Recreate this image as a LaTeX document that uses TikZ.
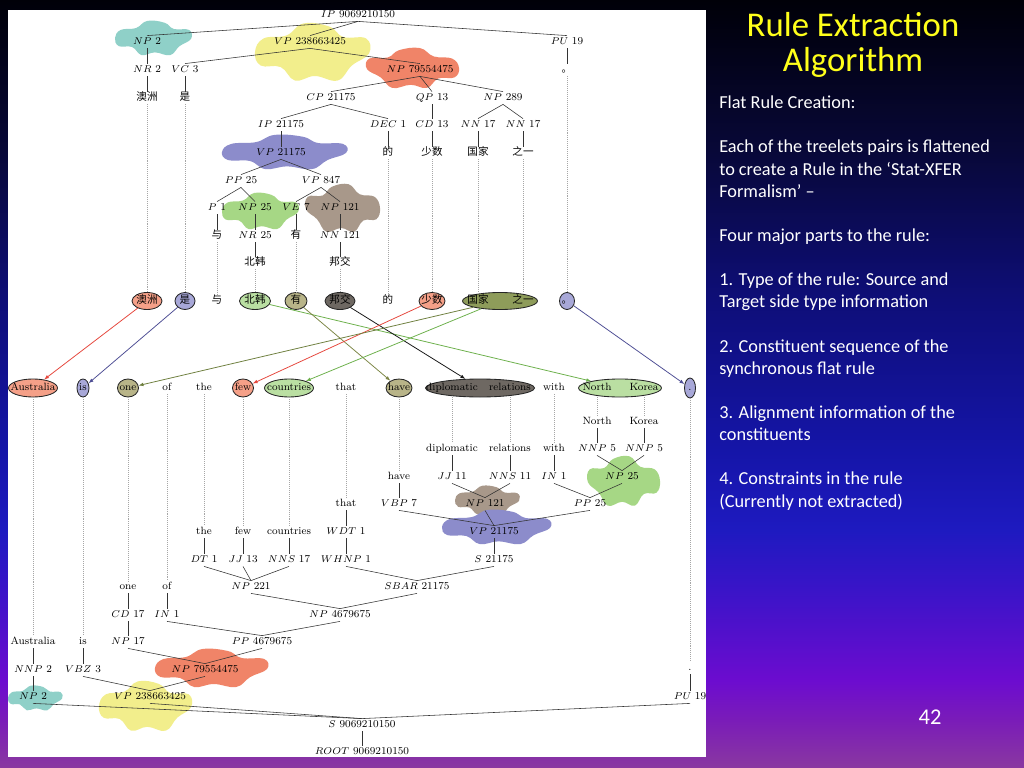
\documentclass[tikz,border=0pt]{standalone}
\usepackage{fontspec}
\newfontfamily\cjk{Noto Sans CJK SC}
\newfontfamily\slidefont{Carlito}
\usetikzlibrary{shapes.geometric,arrows.meta,calc}

\newdimen\pxu \pxu=0.025cm
\newcommand{\zw}[1]{\makebox[0pt]{#1}}
% blob: x, y, half width, half height, colour
\newcommand{\blob}[5]{\fill[#5, shift={(#1,#2)}, xscale=#3, yscale=#4] plot[smooth cycle, tension=0.7] coordinates {(-1,0) (-0.85,-0.45) (-0.45,-0.55) (-0.15,-0.95) (0.3,-0.85) (0.55,-0.5) (0.95,-0.45) (1,0.05) (0.7,0.45) (0.45,0.95) (0.05,0.8) (-0.3,0.95) (-0.55,0.5) (-0.9,0.45)};}

\definecolor{bg0}{HTML}{8A38A0}
\definecolor{bg1}{HTML}{7A1CB8}
\definecolor{bg2}{HTML}{6C0CCF}
\definecolor{bg3}{HTML}{3A14C8}
\definecolor{bg4}{HTML}{1E1AC0}
\definecolor{bg5}{HTML}{1515A8}
\definecolor{bg6}{HTML}{0E0E78}
\definecolor{bg7}{HTML}{080838}
\definecolor{bg8}{HTML}{000008}
\definecolor{titleYellow}{HTML}{FFFF1A}
\definecolor{blTeal}{HTML}{8FD0C8}
\definecolor{blYellow}{HTML}{F2EE8C}
\definecolor{blSalmon}{HTML}{F08468}
\definecolor{blBlue}{HTML}{8C8CCB}
\definecolor{blGreen}{HTML}{A6D785}
\definecolor{blTaupe}{HTML}{A8988A}
\definecolor{piSalmon}{HTML}{F5A088}
\definecolor{piLav}{HTML}{A8A8D8}
\definecolor{piGreen}{HTML}{BADFA2}
\definecolor{piKhaki}{HTML}{B8B488}
\definecolor{piDark}{HTML}{6E6862}
\definecolor{piOlive}{HTML}{8E9C5A}
\definecolor{arRed}{HTML}{E6463C}
\definecolor{arSlate}{HTML}{4E4E94}
\definecolor{arGreen}{HTML}{6CB04A}
\definecolor{arOlive}{HTML}{7D8646}
\definecolor{arMoss}{HTML}{6E7F3E}
\definecolor{arBlack}{HTML}{151515}

\pgfdeclareverticalshading{slidebg}{100bp}{color(0bp)=(bg0); color(25bp)=(bg0); color(28.1bp)=(bg1); color(30.7bp)=(bg2); color(36.6bp)=(bg3); color(40.5bp)=(bg4); color(45.7bp)=(bg5); color(55.5bp)=(bg6); color(65.2bp)=(bg7); color(75bp)=(bg8); color(100bp)=(bg8)}

\tikzset{
  zh/.style={font=\fontsize{7.5}{9}\selectfont\cjk},
  branch/.style={draw=black!80, line width=0.4pt},
  guide/.style={draw=black!35, densely dotted, line width=0.4pt},
  pill/.style={ellipse, draw=black!85, line width=0.6pt, inner sep=0pt, minimum height=17\pxu},
  link/.style={-{Latex[length=3.5pt,width=2.6pt]}, line width=0.55pt},
}

\begin{document}
\begin{tikzpicture}[x=0.025cm, y=-0.025cm]
  \useasboundingbox (0,0) rectangle (1024,768);
  \shade[shading=slidebg] (0,0) rectangle (1024,768);
  \fill[white] (8,10) rectangle (706,757);

  % clouds
  \blob{153}{38}{38}{18}{blTeal}
  \blob{312}{52}{57}{30}{blYellow}
  \blob{413}{68}{-46}{21}{blSalmon}
  \blob{284}{152}{62}{18}{blBlue}
  \blob{260}{211}{38}{19}{blGreen}
  \blob{343}{208}{-37}{25}{blTaupe}
  \blob{624}{481}{-36}{26}{blGreen}
  \blob{487}{500}{32}{15}{blTaupe}
  \blob{496}{527}{54}{18}{blBlue}
  \blob{211}{668}{56}{20}{blSalmon}
  \blob{35}{698}{27}{13}{blTeal}
  \blob{145}{706}{46}{26}{blYellow}

  \begin{scope}[every node/.style={font=\fontsize{7.5}{9}\selectfont, inner sep=1pt, text height=5.2pt, text depth=1.5pt}]
    % source tree
    \node (tIP) at (358,15) {$IP$ 9069210150};
    \node (tNP2) at (147,42) {$NP$ 2};
    \node (tVP) at (310,42) {$VP$ 238663425};
    \node (tPU) at (567,42) {$PU$ 19};
    \node (tNR2) at (147,70) {$NR$ 2};
    \node (tVC) at (185,70) {$VC$ 3};
    \node (tNP79) at (420,70) {$NP$ 79554475};
    \node[zh] (tStop) at (567,70) {。};
    \node[zh] (cAZ) at (147,98) {澳洲};
    \node[zh] (cShi) at (185,98) {是};
    \node (tCP) at (331,98) {$CP$ 21175};
    \node (tQP) at (432,98) {$QP$ 13};
    \node (tNP289) at (503,98) {$NP$ 289};
    \node (tIP2) at (281,125) {$IP$ 21175};
    \node (tDEC) at (388,125) {$DEC$ 1};
    \node (tCD) at (432,125) {$CD$ 13};
    \node (tNNa) at (478,125) {$NN$ 17};
    \node (tNNb) at (523,125) {$NN$ 17};
    \node (tVP2) at (281,153) {$VP$ 21175};
    \node[zh] (cDe) at (388,153) {的};
    \node[zh] (cSS) at (432,153) {少数};
    \node[zh] (cGJ) at (478,153) {国家};
    \node[zh] (cZY) at (523,153) {之一};
    \node (tPP) at (241,181) {$PP$ 25};
    \node (tVP847) at (321,181) {$VP$ 847};
    \node (tP) at (217,208) {$P$ 1};
    \node (tNP25) at (255,208) {$NP$ 25};
    \node (tVE) at (296,208) {$VE$ 7};
    \node (tNP121) at (340,208) {$NP$ 121};
    \node[zh] (cYu) at (217,236) {与};
    \node (tNR25) at (255,236) {$NR$ 25};
    \node[zh] (cYou) at (296,236) {有};
    \node (tNN121) at (340,236) {$NN$ 121};
    \node[zh] (cBH) at (255,263) {北韩};
    \node[zh] (cBJ) at (340,263) {邦交};

    \draw[branch] (tIP.south) -- (tNP2.north);
    \draw[branch] (tIP.south) -- (tVP.north);
    \draw[branch] (tIP.south) -- (tPU.north);
    \draw[branch] (tNP2.south) -- (tNR2.north);
    \draw[branch] (tVP.south) -- (tVC.north);
    \draw[branch] (tVP.south) -- (tNP79.north);
    \draw[branch] (tPU.south) -- (tStop.north);
    \draw[branch] (tNR2.south) -- (cAZ.north);
    \draw[branch] (tVC.south) -- (cShi.north);
    \draw[branch] (tNP79.south) -- (tCP.north);
    \draw[branch] (tNP79.south) -- (tQP.north);
    \draw[branch] (tNP79.south) -- (tNP289.north);
    \draw[branch] (tCP.south) -- (tIP2.north);
    \draw[branch] (tCP.south) -- (tDEC.north);
    \draw[branch] (tQP.south) -- (tCD.north);
    \draw[branch] (tNP289.south) -- (tNNa.north);
    \draw[branch] (tNP289.south) -- (tNNb.north);
    \draw[branch] (tIP2.south) -- (tVP2.north);
    \draw[branch] (tDEC.south) -- (cDe.north);
    \draw[branch] (tCD.south) -- (cSS.north);
    \draw[branch] (tNNa.south) -- (cGJ.north);
    \draw[branch] (tNNb.south) -- (cZY.north);
    \draw[branch] (tVP2.south) -- (tPP.north);
    \draw[branch] (tVP2.south) -- (tVP847.north);
    \draw[branch] (tPP.south) -- (tP.north);
    \draw[branch] (tPP.south) -- (tNP25.north);
    \draw[branch] (tVP847.south) -- (tVE.north);
    \draw[branch] (tVP847.south) -- (tNP121.north);
    \draw[branch] (tP.south) -- (cYu.north);
    \draw[branch] (tNP25.south) -- (tNR25.north);
    \draw[branch] (tVE.south) -- (cYou.north);
    \draw[branch] (tNP121.south) -- (tNN121.north);
    \draw[branch] (tNR25.south) -- (cBH.north);
    \draw[branch] (tNN121.south) -- (cBJ.north);

    % source row
    \node[pill, fill=piSalmon, minimum width=30\pxu] (zAZ) at (147,301) {\zw{\cjk 澳洲}};
    \node[pill, fill=piLav, minimum width=20\pxu] (zShi) at (185,301) {\zw{\cjk 是}};
    \node[zh] (zYu) at (217,301) {与};
    \node[pill, fill=piGreen, minimum width=31\pxu] (zBH) at (255,301) {\zw{\cjk 北韩}};
    \node[pill, fill=piKhaki, minimum width=22\pxu] (zYou) at (296,301) {\zw{\cjk 有}};
    \node[pill, fill=piDark, minimum width=30\pxu] (zBJ) at (340,301) {\zw{\cjk 邦交}};
    \node[zh] (zDe) at (388,301) {的};
    \node[pill, fill=piSalmon, minimum width=26\pxu] (zSS) at (432,301) {\zw{\cjk 少数}};
    \node[pill, fill=piOlive, minimum width=75\pxu] (zGJZY) at (500,301) {};
    \node[zh] (zGJ) at (478,301) {国家};
    \node[zh] (zZY) at (523,301) {之一};
    \node[pill, fill=piLav, minimum width=15\pxu] (zStop) at (567,301) {\zw{\cjk 。}};

    \draw[guide] (cAZ.south) -- (zAZ.north);
    \draw[guide] (cShi.south) -- (zShi.north);
    \draw[guide] (cYu.south) -- (zYu.north);
    \draw[guide] (cBH.south) -- (zBH.north);
    \draw[guide] (cYou.south) -- (zYou.north);
    \draw[guide] (cBJ.south) -- (zBJ.north);
    \draw[guide] (cDe.south) -- (zDe.north);
    \draw[guide] (cSS.south) -- (zSS.north);
    \draw[guide] (cGJ.south) -- (zGJZY.north -| zGJ);
    \draw[guide] (cZY.south) -- (zGJZY.north -| zZY);
    \draw[guide] (tStop.south) -- (zStop.north);

    % target row
    \node[pill, fill=piSalmon, minimum width=49\pxu, minimum height=18\pxu] (eAus) at (33,388) {\zw{Australia}};
    \node[pill, fill=piLav, minimum width=12\pxu, minimum height=18\pxu] (eIs) at (83,388) {\zw{is}};
    \node[pill, fill=piKhaki, minimum width=21\pxu, minimum height=18\pxu] (eOne) at (128,388) {\zw{one}};
    \node (eOf) at (167,388) {of};
    \node (eThe) at (204,388) {the};
    \node[pill, fill=piSalmon, minimum width=21\pxu, minimum height=18\pxu] (eFew) at (243,388) {\zw{few}};
    \node[pill, fill=piGreen, minimum width=49\pxu, minimum height=18\pxu] (eCtr) at (289,388) {\zw{countries}};
    \node (eThat) at (346,388) {that};
    \node[pill, fill=piKhaki, minimum width=26\pxu, minimum height=18\pxu] (eHave) at (399,388) {\zw{have}};
    \node[pill, fill=piDark, minimum width=109\pxu, minimum height=18\pxu] (eDR) at (480,388) {};
    \node (eDip) at (452,388) {diplomatic};
    \node (eRel) at (510,388) {relations};
    \node (eWith) at (554,388) {with};
    \node[pill, fill=piGreen, minimum width=83\pxu, minimum height=18\pxu] (eNK) at (620,388) {};
    \node (eNorth) at (597,388) {North};
    \node (eKorea) at (644,388) {Korea};
    \node[pill, fill=piLav, minimum width=11\pxu, minimum height=20\pxu] (eStop) at (690,388) {\zw{.}};

    % alignments
    \draw[link, arRed] (zAZ) -- (eAus);
    \draw[link, arSlate] (zShi) -- (eIs);
    \draw[link, arGreen] (zBH) -- (eNK);
    \draw[link, arOlive] (zYou) -- (eHave);
    \draw[link, arBlack] (zBJ) -- (eDR);
    \draw[link, arRed] (zSS) -- (eFew);
    \draw[link, arMoss] (zGJZY) -- (eOne);
    \draw[link, arGreen] (zGJZY) -- (eCtr);
    \draw[link, arSlate] (zStop) -- (eStop);

    % target tree
    \node (bNorth) at (597,422) {North};
    \node (bKorea) at (644,422) {Korea};
    \node (bDip) at (452,449) {diplomatic};
    \node (bRel) at (510,449) {relations};
    \node (bWith) at (554,449) {with};
    \node (bNNPa) at (597,449) {$NNP$ 5};
    \node (bNNPb) at (644,449) {$NNP$ 5};
    \node (bHave) at (399,477) {have};
    \node (bJJ) at (452,477) {$JJ$ 11};
    \node (bNNS) at (510,477) {$NNS$ 11};
    \node (bIN) at (554,477) {$IN$ 1};
    \node (bNP25) at (622,477) {$NP$ 25};
    \node (bThat) at (346,504) {that};
    \node (bVBP) at (399,504) {$VBP$ 7};
    \node (bNP121) at (485,504) {$NP$ 121};
    \node (bPP25) at (590,504) {$PP$ 25};
    \node (bThe) at (204,532) {the};
    \node (bFew) at (243,532) {few};
    \node (bCtr) at (289,532) {countries};
    \node (bWDT) at (346,532) {$WDT$ 1};
    \node (bVP) at (494,532) {$VP$ 21175};
    \node (bDT) at (204,560) {$DT$ 1};
    \node (bJJ13) at (243,560) {$JJ$ 13};
    \node (bNNS17) at (289,560) {$NNS$ 17};
    \node (bWHNP) at (346,560) {$WHNP$ 1};
    \node (bS21) at (494,560) {$S$ 21175};
    \node (bOne) at (128,587) {one};
    \node (bOf) at (167,587) {of};
    \node (bNP221) at (251,587) {$NP$ 221};
    \node (bSBAR) at (417,587) {$SBAR$ 21175};
    \node (bCD) at (128,615) {$CD$ 17};
    \node (bIN1) at (167,615) {$IN$ 1};
    \node (bNP46) at (340,615) {$NP$ 4679675};
    \node (bAus) at (33,642) {Australia};
    \node (bIs) at (83,642) {is};
    \node (bNP17) at (128,642) {$NP$ 17};
    \node (bPP46) at (262,642) {$PP$ 4679675};
    \node (bNNP2) at (33,670) {$NNP$ 2};
    \node (bVBZ) at (83,670) {$VBZ$ 3};
    \node (bNP79) at (205,670) {$NP$ 79554475};
    \node (bDot) at (690,668) {.};
    \node (bNP2) at (33,697) {$NP$ 2};
    \node (bVP23) at (150,697) {$VP$ 238663425};
    \node (bPU) at (690,697) {$PU$ 19};
    \node (bS) at (362,725) {$S$ 9069210150};
    \node (bROOT) at (362,752) {$ROOT$ 9069210150};

    \draw[guide] (eAus.south) -- (bAus.north);
    \draw[guide] (eIs.south) -- (bIs.north);
    \draw[guide] (eOne.south) -- (bOne.north);
    \draw[guide] (eOf.south) -- (bOf.north);
    \draw[guide] (eThe.south) -- (bThe.north);
    \draw[guide] (eFew.south) -- (bFew.north);
    \draw[guide] (eCtr.south) -- (bCtr.north);
    \draw[guide] (eThat.south) -- (bThat.north);
    \draw[guide] (eHave.south) -- (bHave.north);
    \draw[guide] (eDR.south -| eDip) -- (bDip.north);
    \draw[guide] (eDR.south -| eRel) -- (bRel.north);
    \draw[guide] (eWith.south) -- (bWith.north);
    \draw[guide] (eNK.south -| eNorth) -- (bNorth.north);
    \draw[guide] (eNK.south -| eKorea) -- (bKorea.north);
    \draw[guide] (eStop.south) -- (bDot.north);

    \draw[branch] (bNorth.south) -- (bNNPa.north);
    \draw[branch] (bKorea.south) -- (bNNPb.north);
    \draw[branch] (bNNPa.south) -- (bNP25.north);
    \draw[branch] (bNNPb.south) -- (bNP25.north);
    \draw[branch] (bDip.south) -- (bJJ.north);
    \draw[branch] (bRel.south) -- (bNNS.north);
    \draw[branch] (bWith.south) -- (bIN.north);
    \draw[branch] (bHave.south) -- (bVBP.north);
    \draw[branch] (bJJ.south) -- (bNP121.north);
    \draw[branch] (bNNS.south) -- (bNP121.north);
    \draw[branch] (bIN.south) -- (bPP25.north);
    \draw[branch] (bNP25.south) -- (bPP25.north);
    \draw[branch] (bVBP.south) -- (bVP.north);
    \draw[branch] (bNP121.south) -- (bVP.north);
    \draw[branch] (bPP25.south) -- (bVP.north);
    \draw[branch] (bVP.south) -- (bS21.north);
    \draw[branch] (bThat.south) -- (bWDT.north);
    \draw[branch] (bWDT.south) -- (bWHNP.north);
    \draw[branch] (bThe.south) -- (bDT.north);
    \draw[branch] (bFew.south) -- (bJJ13.north);
    \draw[branch] (bCtr.south) -- (bNNS17.north);
    \draw[branch] (bDT.south) -- (bNP221.north);
    \draw[branch] (bJJ13.south) -- (bNP221.north);
    \draw[branch] (bNNS17.south) -- (bNP221.north);
    \draw[branch] (bWHNP.south) -- (bSBAR.north);
    \draw[branch] (bS21.south) -- (bSBAR.north);
    \draw[branch] (bNP221.south) -- (bNP46.north);
    \draw[branch] (bSBAR.south) -- (bNP46.north);
    \draw[branch] (bOne.south) -- (bCD.north);
    \draw[branch] (bOf.south) -- (bIN1.north);
    \draw[branch] (bCD.south) -- (bNP17.north);
    \draw[branch] (bIN1.south) -- (bPP46.north);
    \draw[branch] (bNP46.south) -- (bPP46.north);
    \draw[branch] (bNP17.south) -- (bNP79.north);
    \draw[branch] (bPP46.south) -- (bNP79.north);
    \draw[branch] (bAus.south) -- (bNNP2.north);
    \draw[branch] (bNNP2.south) -- (bNP2.north);
    \draw[branch] (bIs.south) -- (bVBZ.north);
    \draw[branch] (bVBZ.south) -- (bVP23.north);
    \draw[branch] (bNP79.south) -- (bVP23.north);
    \draw[branch] (bDot.south) -- (bPU.north);
    \draw[branch] (bNP2.south) -- (bS.north);
    \draw[branch] (bVP23.south) -- (bS.north);
    \draw[branch] (bPU.south) -- (bS.north);
    \draw[branch] (bS.south) -- (bROOT.north);
  \end{scope}

  % slide text
  \node[anchor=base, inner sep=0pt, text=titleYellow, font=\slidefont\fontsize{24.7}{29.6}\selectfont] (title) at (853,37) {Rule Extraction};
  \node[anchor=base, inner sep=0pt, text=titleYellow, font=\slidefont\fontsize{24.7}{29.6}\selectfont] (title2) at (853,72) {Algorithm};
  \node[anchor=base west, align=left, inner sep=0pt, text=white, font=\slidefont\fontsize{13}{15.74}\selectfont] (body) at (719,507) {Flat Rule Creation:\\[15.74pt]
    Each of the treelets pairs is flattened\\
    to create a Rule in the ‘Stat-XFER\\
    Formalism’ –\\[15.74pt]
    Four major parts to the rule:\\[15.74pt]
    1. Type of the rule: Source and\\
    Target side type information\\[15.74pt]
    2. Constituent sequence of the\\
    synchronous flat rule\\[15.74pt]
    3. Alignment information of the\\
    constituents\\[15.74pt]
    4. Constraints in the rule\\
    (Currently not extracted)};
  \node[anchor=base, inner sep=0pt, text=white, font=\slidefont\fontsize{16}{19}\selectfont] (pageno) at (930,724) {42};
\end{tikzpicture}
\end{document}
